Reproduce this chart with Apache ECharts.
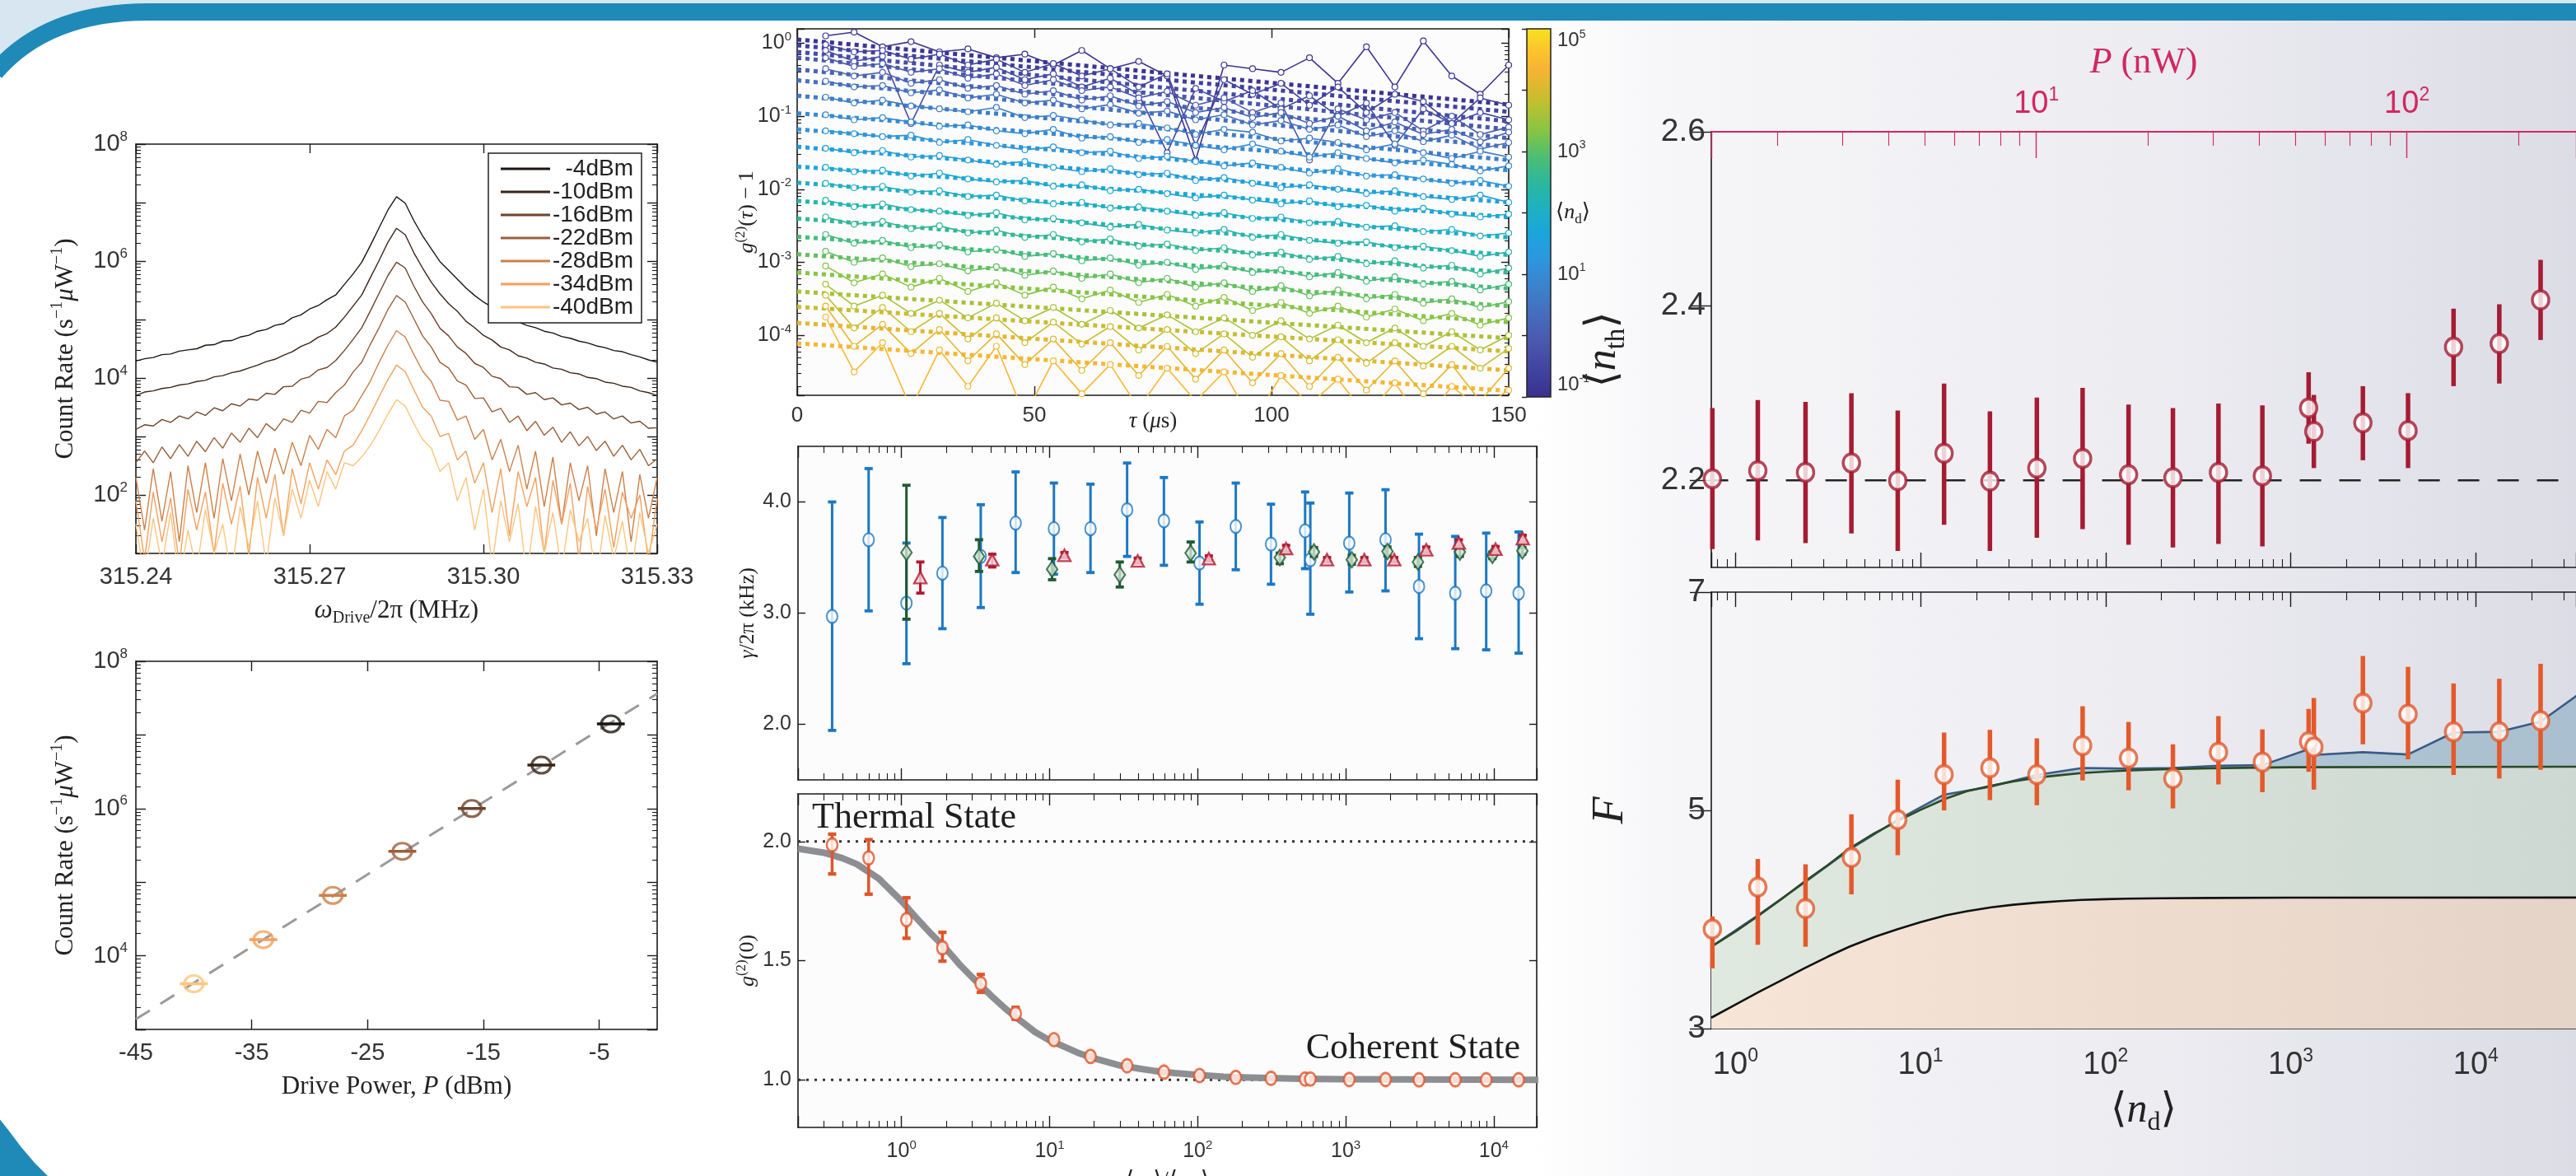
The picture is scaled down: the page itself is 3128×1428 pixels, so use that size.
<!DOCTYPE html>
<html><head><meta charset="utf-8"><title>Displaced thermal states</title>
<script src="https://cdn.jsdelivr.net/npm/echarts@6.0.0/dist/echarts.min.js"></script>
<style>html,body{margin:0;padding:0;background:#fff;overflow:hidden}#chart{width:3128px;height:1428px}</style>
</head><body><div id="chart"></div>
<script>
// ---------------- DATA ----------------
// Panel A: spectra (log10 of count rate) vs drive frequency
const spectrumFreqMHz = [315.2400,315.2415,315.2430,315.2445,315.2460,315.2475,315.2490,315.2505,315.2520,315.2535,315.2550,315.2565,315.2580,315.2595,315.2610,315.2625,315.2640,315.2655,315.2670,315.2685,315.2700,315.2715,315.2730,315.2745,315.2760,315.2775,315.2790,315.2805,315.2820,315.2835,315.2850,315.2865,315.2880,315.2895,315.2910,315.2925,315.2940,315.2955,315.2970,315.2985,315.3000,315.3015,315.3030,315.3045,315.3060,315.3075,315.3090,315.3105,315.3120,315.3135,315.3150,315.3165,315.3180,315.3195,315.3210,315.3225,315.3240,315.3255,315.3270,315.3285,315.3300];
const spec_m4_log10 = [4.29,4.33,4.35,4.40,4.41,4.46,4.48,4.50,4.56,4.57,4.63,4.64,4.70,4.73,4.80,4.83,4.90,4.93,5.03,5.08,5.18,5.24,5.34,5.42,5.60,5.78,5.98,6.27,6.57,6.87,7.10,6.99,6.69,6.43,6.21,5.99,5.84,5.69,5.54,5.41,5.30,5.21,5.11,5.03,4.96,4.90,4.86,4.80,4.77,4.71,4.68,4.63,4.60,4.55,4.52,4.47,4.45,4.40,4.36,4.31,4.27];
const spec_m10_log10 = [3.70,3.76,3.78,3.82,3.84,3.88,3.90,3.94,3.96,4.02,4.04,4.09,4.12,4.17,4.22,4.28,4.32,4.39,4.45,4.54,4.60,4.70,4.76,4.87,5.04,5.23,5.42,5.72,6.01,6.32,6.56,6.45,6.14,5.88,5.64,5.44,5.27,5.14,4.97,4.86,4.73,4.65,4.53,4.48,4.38,4.34,4.27,4.24,4.17,4.15,4.09,4.07,4.01,3.99,3.93,3.91,3.86,3.84,3.78,3.75,3.70];
const spec_m16_log10 = [3.12,3.20,3.18,3.29,3.24,3.35,3.30,3.42,3.36,3.49,3.44,3.56,3.52,3.64,3.62,3.74,3.72,3.85,3.86,3.98,4.02,4.14,4.18,4.30,4.47,4.66,4.86,5.15,5.45,5.75,5.98,5.88,5.57,5.30,5.10,4.85,4.72,4.53,4.42,4.25,4.18,4.03,3.99,3.85,3.84,3.72,3.75,3.63,3.66,3.54,3.57,3.46,3.50,3.38,3.42,3.30,3.35,3.23,3.26,3.14,3.15];
const spec_m22_log10 = [2.55,2.75,2.55,2.82,2.62,2.86,2.66,2.92,2.74,2.98,2.80,3.06,2.90,3.14,2.98,3.22,3.10,3.30,3.24,3.45,3.40,3.60,3.58,3.75,3.88,4.10,4.27,4.58,4.86,5.17,5.41,5.30,5.01,4.72,4.53,4.27,4.17,3.95,3.88,3.65,3.66,3.42,3.48,3.24,3.35,3.10,3.26,3.02,3.16,2.90,3.08,2.84,3.00,2.76,2.92,2.66,2.85,2.60,2.78,2.50,2.62];
const spec_m28_log10 = [2.30,1.40,2.45,1.55,2.40,1.20,2.50,1.70,2.55,1.60,2.62,1.90,2.70,2.00,2.75,2.20,2.80,2.35,2.90,2.50,3.02,2.78,3.12,2.98,3.35,3.45,3.70,3.95,4.27,4.56,4.81,4.70,4.40,4.12,3.94,3.62,3.60,3.28,3.35,2.95,3.12,2.60,2.95,2.40,2.85,2.10,2.75,1.80,2.65,1.50,2.55,1.90,2.50,1.30,2.45,1.70,2.40,1.20,2.35,1.60,2.30];
const spec_m34_log10 = [1.90,0.90,2.05,1.20,1.95,0.80,2.10,1.40,2.05,1.00,2.20,1.50,2.15,0.95,2.30,1.60,2.35,1.30,2.45,1.85,2.55,2.10,2.60,2.35,2.75,2.85,3.10,3.38,3.68,3.97,4.22,4.11,3.80,3.50,3.35,3.00,3.05,2.60,2.75,2.20,2.55,1.70,2.45,1.30,2.40,1.80,2.30,1.00,2.25,1.50,2.20,0.90,2.15,1.40,2.10,1.10,2.05,1.60,2.00,0.85,1.95];
const spec_m40_log10 = [1.50,0.60,1.60,0.80,1.70,0.50,1.40,0.70,1.75,1.00,1.50,0.60,1.80,1.10,1.90,0.80,1.95,1.30,2.10,1.60,2.25,1.80,2.40,2.10,2.55,2.50,2.65,2.85,3.10,3.38,3.63,3.52,3.22,2.95,2.80,2.40,2.55,1.90,2.30,1.40,2.10,0.80,1.90,1.20,1.85,0.60,1.80,1.00,1.70,0.70,1.75,1.20,1.60,0.50,1.65,0.90,1.55,0.60,1.70,1.00,1.50];
const specNames = ['-4dBm','-10dBm','-16dBm','-22dBm','-28dBm','-34dBm','-40dBm'];
const freqTicksMHz = [315.24,315.27,315.30,315.33];

// Panel B: peak count rate vs drive power
const drivePowerDbm = [-40,-34,-28,-22,-16,-10,-4];
const drivePeakRate = [4170,16600,66100,263000,1000000,3890000,14100000];
const drivePowerErrDbm = [1.2,1.2,1.2,1.2,1.2,1.2,1.2];
const driveFitDbm = [-45,0];
const driveFitRate = [1380,36300000];
const powerTicksDbm = [-45,-35,-25,-15,-5];

// Panel C: g2(tau)-1 traces (log10) and exponential fits
const tauUs = [6,12,18,24,30,36,42,48,54,60,66,72,78,84,90,96,102,108,114,120,126,132,138,144,150];
const tauTicksUs = [0,50,100,150];
const g2TracesLog10 = [
 [0.10,0.15,-0.05,0.02,-0.12,-0.08,-0.20,-0.15,-0.30,-0.10,-0.35,-0.25,-0.45,-1.60,-0.30,-0.35,-0.40,-0.20,-0.55,-0.05,-0.60,0.03,-0.45,-0.70,-0.30],
 [-0.02,-0.12,-0.10,-0.22,-0.15,-0.30,-0.22,-0.40,-0.28,-0.45,-0.35,-0.60,-0.42,-1.40,-0.50,-0.70,-0.55,-0.85,-0.60,-0.95,-0.70,-0.80,-1.10,-0.75,-0.85],
 [-0.10,-0.25,-0.18,-1.10,-0.30,-0.40,-0.33,-0.50,-0.42,-0.60,-0.48,-0.70,-1.50,-0.62,-0.80,-0.65,-0.90,-0.72,-1.00,-0.82,-1.40,-0.90,-1.10,-0.95,-1.05],
 [-0.20,-0.32,-0.28,-0.40,-0.35,-0.48,-0.42,-0.58,-0.50,-0.65,-0.60,-0.75,-0.66,-0.85,-0.75,-0.95,-0.82,-1.60,-0.90,-1.05,-0.95,-1.20,-1.00,-1.25,-1.15],
 [-0.35,-0.45,-0.40,-0.55,-0.50,-0.62,-0.58,-0.70,-0.65,-0.78,-0.72,-0.86,-0.80,-0.95,-0.88,-1.02,-0.95,-1.10,-1.00,-1.20,-1.08,-1.25,-1.18,-1.35,-1.22],
 [-0.52,-0.60,-0.58,-0.68,-0.64,-0.75,-0.70,-0.82,-0.78,-0.90,-0.84,-0.96,-0.93,-1.05,-0.98,-1.12,-1.06,-1.18,-1.12,-1.28,-1.20,-1.35,-1.26,-1.45,-1.36],
 [-0.74,-0.82,-0.78,-0.86,-0.90,-0.94,-0.88,-1.02,-0.99,-1.05,-1.12,-1.10,-1.16,-1.25,-1.18,-1.22,-1.34,-1.30,-1.36,-1.46,-1.38,-1.50,-1.58,-1.48,-1.56],
 [-0.98,-1.05,-1.02,-1.08,-1.14,-1.12,-1.20,-1.24,-1.18,-1.30,-1.28,-1.36,-1.32,-1.40,-1.46,-1.38,-1.48,-1.56,-1.50,-1.58,-1.64,-1.60,-1.66,-1.75,-1.68],
 [-1.20,-1.24,-1.28,-1.26,-1.36,-1.32,-1.40,-1.46,-1.42,-1.50,-1.48,-1.58,-1.55,-1.62,-1.68,-1.64,-1.70,-1.78,-1.72,-1.82,-1.80,-1.86,-1.92,-1.88,-1.96],
 [-1.44,-1.50,-1.47,-1.56,-1.54,-1.60,-1.66,-1.62,-1.70,-1.76,-1.72,-1.80,-1.78,-1.88,-1.84,-1.92,-1.98,-1.94,-2.00,-2.06,-2.02,-2.10,-2.14,-2.08,-2.18],
 [-1.70,-1.76,-1.74,-1.82,-1.78,-1.86,-1.90,-1.88,-1.96,-1.94,-2.02,-2.00,-2.06,-2.12,-2.08,-2.15,-2.20,-2.16,-2.24,-2.22,-2.30,-2.26,-2.34,-2.38,-2.34],
 [-1.92,-1.98,-1.96,-2.04,-2.02,-2.10,-2.08,-2.16,-2.20,-2.18,-2.26,-2.24,-2.30,-2.36,-2.32,-2.40,-2.38,-2.46,-2.44,-2.52,-2.50,-2.58,-2.55,-2.64,-2.60],
 [-2.15,-2.24,-2.20,-2.28,-2.30,-2.36,-2.32,-2.42,-2.40,-2.46,-2.52,-2.48,-2.56,-2.60,-2.55,-2.66,-2.62,-2.70,-2.74,-2.72,-2.80,-2.78,-2.84,-2.92,-2.86],
 [-2.38,-2.48,-2.44,-2.54,-2.50,-2.60,-2.56,-2.66,-2.62,-2.72,-2.68,-2.78,-2.75,-2.84,-2.80,-2.90,-2.86,-2.96,-2.92,-3.02,-2.98,-3.08,-3.04,-3.16,-3.08],
 [-2.62,-2.74,-2.70,-2.80,-2.76,-2.86,-2.82,-2.92,-2.88,-2.98,-2.94,-3.04,-3.00,-3.10,-3.04,-3.14,-3.10,-3.20,-3.14,-3.26,-3.20,-3.30,-3.26,-3.38,-3.30],
 [-2.85,-3.00,-2.94,-3.06,-3.02,-3.12,-3.06,-3.18,-3.12,-3.22,-3.16,-3.28,-3.22,-3.34,-3.28,-3.40,-3.32,-3.46,-3.38,-3.50,-3.44,-3.56,-3.50,-3.62,-3.54],
 [-3.05,-3.28,-3.16,-3.34,-3.22,-3.40,-3.28,-3.45,-3.34,-3.50,-3.38,-3.55,-3.44,-3.60,-3.48,-3.66,-3.55,-3.70,-3.60,-3.75,-3.64,-3.80,-3.70,-3.86,-3.76],
 [-3.30,-3.60,-3.45,-3.70,-3.52,-3.76,-3.56,-3.80,-3.62,-3.85,-3.66,-3.90,-3.72,-3.95,-3.76,-4.00,-3.80,-4.05,-3.86,-4.10,-3.90,-4.15,-3.95,-4.20,-4.00],
 [-3.45,-3.90,-3.62,-3.95,-3.70,-4.05,-3.76,-4.10,-3.82,-4.12,-3.88,-4.20,-3.92,-4.25,-3.98,-4.30,-4.02,-4.35,-4.06,-4.38,-4.10,-4.42,-4.15,-4.45,-4.18],
 [-3.60,-4.15,-3.85,-4.25,-3.92,-4.35,-3.98,-4.40,-4.05,-4.48,-4.10,-4.55,-4.15,-4.60,-4.20,-4.65,-4.25,-4.70,-4.30,-4.75,-4.35,-4.80,-4.40,-4.90,-4.45],
 [-3.75,-4.50,-4.10,-5.00,-4.20,-4.70,-4.15,-5.10,-4.35,-4.80,-4.40,-5.00,-4.45,-4.90,-4.50,-5.20,-4.55,-4.95,-4.60,-5.10,-4.65,-5.20,-4.70,-5.00,-4.75]
];
const g2FitStartLog10 = [0.05,-0.03,-0.12,-0.20,-0.36,-0.51,-0.72,-0.96,-1.18,-1.42,-1.69,-1.91,-2.16,-2.40,-2.65,-2.89,-3.14,-3.40,-3.61,-3.83,-4.11];
const g2FitEndLog10 = [-0.84,-0.94,-1.07,-1.18,-1.30,-1.42,-1.60,-1.74,-1.96,-2.18,-2.38,-2.66,-2.90,-3.14,-3.36,-3.60,-3.82,-4.04,-4.22,-4.48,-4.76];
const traceNd = [0.13,0.24,0.44,0.82,1.5,2.8,5.1,9.3,17,31,58,106,194,356,655,1200,2200,4060,7450,13700,25000];

// Panel D: linewidth gamma/2pi (kHz) vs <n_d>/<n_th>
const ratioBlue = [0.34,0.60,1.08,1.89,3.43,5.9,10.7,18.9,33.4,59.2,103,181,313,532,577,1057,1858,3126,5495,8892,14720];
const gammaBlue = [2.97,3.66,3.09,3.36,3.51,3.81,3.76,3.76,3.93,3.83,3.45,3.78,3.62,3.74,3.48,3.63,3.66,3.24,3.18,3.20,3.18];
const gammaBlueLo = [1.945,3.02,2.545,2.86,3.05,3.365,3.35,3.365,3.51,3.43,3.08,3.39,3.26,3.40,2.99,3.19,3.20,2.77,2.68,2.67,2.64];
const gammaBlueHi = [4.00,4.30,3.63,3.86,3.975,4.27,4.17,4.16,4.35,4.22,3.82,4.17,3.98,4.09,3.99,4.08,4.11,3.71,3.69,3.72,3.73];
const ratioGreen = [1.08,3.34,10.4,29.8,89.7,359,611,1099,1914,3076,5902,9790,15600];
const gammaGreen = [3.545,3.51,3.395,3.345,3.54,3.50,3.55,3.48,3.555,3.46,3.55,3.52,3.56];
const gammaGreenLo = [2.945,3.375,3.30,3.235,3.46,3.445,3.51,3.44,3.515,3.42,3.51,3.49,3.53];
const gammaGreenHi = [4.15,3.66,3.49,3.46,3.64,3.54,3.59,3.52,3.595,3.50,3.59,3.55,3.59];
const ratioRed = [1.34,4.10,12.6,39.4,119,396,748,1337,2128,3499,5810,10280,15700];
const gammaRed = [3.32,3.48,3.52,3.47,3.49,3.58,3.48,3.48,3.48,3.57,3.63,3.575,3.67];
const gammaRedLo = [3.18,3.415,3.50,3.45,3.47,3.55,3.46,3.46,3.46,3.545,3.60,3.55,3.64];
const gammaRedHi = [3.46,3.53,3.545,3.495,3.515,3.61,3.50,3.50,3.50,3.595,3.66,3.60,3.70];
const gammaTicks = [2,3,4];

// Panel E: g2(0) vs <n_d>/<n_th>
const g2Zero = [1.986,1.931,1.672,1.554,1.404,1.278,1.168,1.098,1.059,1.032,1.018,1.010,1.006,1.003,1.003,1.001,1.001,1.000,1.000,1.000,1.000];
const g2ZeroLo = [1.864,1.779,1.594,1.498,1.367,1.254,1.158,1.090,1.052,1.026,1.012,1.004,1.000,0.997,0.997,0.995,0.995,0.994,0.994,0.994,0.994];
const g2ZeroHi = [2.031,2.008,1.764,1.619,1.442,1.304,1.178,1.106,1.066,1.038,1.024,1.016,1.012,1.009,1.009,1.007,1.007,1.006,1.006,1.006,1.006];
const g2CurveRatio = [0.2,0.3,0.4,0.5,0.7,1.0,1.3,1.6,2,2.5,3,4,5,6,8,10,13,16,20,30,40,50,70,100,150,200,300,500,1000,20000];
const g2CurveValue = [1.97,1.953,1.93,1.905,1.845,1.75,1.67,1.61,1.55,1.48,1.43,1.355,1.30,1.26,1.20,1.165,1.135,1.11,1.09,1.06,1.047,1.038,1.028,1.02,1.013,1.01,1.007,1.004,1.002,1.0];
const g2ZeroTicks = [1.0,1.5,2.0];

// Panel F: <n_th> vs <n_d>
const ndPoints = [0.75,1.32,2.39,4.23,7.53,13.4,23.7,42.5,75.1,133,231,407,703,1250,1334,2455,4305,7586,13400,22400];
const nthValue = [2.2017,2.211,2.209,2.220,2.1995,2.231,2.199,2.214,2.225,2.2065,2.203,2.209,2.205,2.283,2.256,2.266,2.257,2.353,2.357,2.407];
const nthLo = [2.121,2.131,2.128,2.139,2.119,2.149,2.119,2.134,2.144,2.126,2.123,2.127,2.124,2.242,2.214,2.223,2.214,2.308,2.311,2.361];
const nthHi = [2.283,2.292,2.290,2.300,2.280,2.311,2.279,2.295,2.306,2.287,2.283,2.288,2.286,2.324,2.298,2.308,2.300,2.397,2.402,2.453];
const nthRef = [2.2,2.2];
const nthRefNd = [0.7,40000];
const nthTicks = [2.2,2.4,2.6];

// Panel G: F vs <n_d>
const FValue = [3.912,4.298,4.10,4.568,4.914,5.328,5.389,5.328,5.594,5.479,5.292,5.533,5.443,5.63,5.58,5.983,5.882,5.72,5.72,5.821];
const FLo = [3.552,3.768,3.75,4.23,4.589,5.0,5.094,5.047,5.274,5.184,5.018,5.238,5.166,5.353,5.19,5.605,5.468,5.324,5.292,5.371];
const FHi = [4.028,4.554,4.506,4.964,5.281,5.713,5.738,5.66,5.954,5.81,5.605,5.864,5.742,5.93,6.03,6.415,6.315,6.163,6.206,6.343];
const curveNd = [0.74,1.0,1.34,1.78,2.35,3.16,4.13,5.62,7.53,10,13.7,17.8,24.1,31.6,42.2,56.2,73.9,100,129,200,367,1000,40000];
const blackCurveF = [3.10,3.22,3.337,3.445,3.552,3.66,3.751,3.84,3.912,3.975,4.038,4.075,4.111,4.135,4.154,4.168,4.179,4.186,4.19,4.194,4.197,4.20,4.201];
const greenCurveF = [3.75,3.89,4.038,4.19,4.345,4.50,4.651,4.79,4.903,5.005,5.108,5.175,5.227,5.265,5.299,5.322,5.342,5.355,5.364,5.376,5.386,5.395,5.40];
const blueCurveNd = [0.74,1.32,2.39,4.23,7.53,13.4,23.7,42.5,75.1,133,231,407,703,1250,1334,2455,4305,7586,13400,22400,40000];
const blueCurveF = [3.75,4.038,4.345,4.651,4.914,5.144,5.216,5.324,5.389,5.382,5.389,5.41,5.414,5.561,5.508,5.533,5.512,5.713,5.72,5.813,6.12];
const FTicks = [3,5,7];

// ---------------- STYLE ----------------
const FT = '"Liberation Sans Narrow","Liberation Sans",Arial,sans-serif';
const FS = '"Liberation Serif","DejaVu Serif",serif';
const AXC = '#1a1a1a';
const specColors = ['#1b1512','#3b2417','#6e4329','#9c6038','#cd8049','#f3a05f','#fcc57e'];
const parulaStops = [[0,'#3b2f8c'],[0.05,'#3e3d9b'],[0.15,'#4a58ad'],[0.22,'#476bbb'],[0.30,'#3b82cc'],[0.38,'#2b98de'],[0.45,'#1aa6da'],[0.52,'#1fb2bd'],[0.58,'#2bb79e'],[0.65,'#4cbd74'],[0.72,'#85c545'],[0.79,'#b9c132'],[0.84,'#dcb92e'],[0.89,'#f7b434'],[0.94,'#fcc42b'],[1,'#f5e31e']];
function hex2rgb(h){return [parseInt(h.slice(1,3),16),parseInt(h.slice(3,5),16),parseInt(h.slice(5,7),16)];}
function parula(f){
  f=Math.max(0,Math.min(1,f));
  for(let i=1;i<parulaStops.length;i++){
    if(f<=parulaStops[i][0]){
      const a=parulaStops[i-1],b=parulaStops[i],t=(f-a[0])/(b[0]-a[0]);
      const ca=hex2rgb(a[1]),cb=hex2rgb(b[1]);
      return 'rgb('+ca.map((c,j)=>Math.round(c+(cb[j]-c)*t)).join(',')+')';
    }
  }
  return parulaStops[parulaStops.length-1][1];
}
function rich(size,color){
  const lh=Math.round(size*1.25), ss=Math.round(size*0.64);
  return {
    r:{fontFamily:FS,fontSize:size,color,lineHeight:lh},
    i:{fontFamily:FS,fontSize:size,fontStyle:'italic',color,lineHeight:lh},
    sup:{fontFamily:FS,fontSize:ss,color,verticalAlign:'top',lineHeight:ss},
    sub:{fontFamily:FS,fontSize:ss,color,verticalAlign:'bottom',lineHeight:ss}
  };
}
function lrich(size,color){
  return {b:{fontFamily:FT,fontSize:size,color,lineHeight:Math.round(size*1.2)},
          s:{fontFamily:FT,fontSize:Math.round(size*0.6),color,verticalAlign:'top',lineHeight:Math.round(size*0.6)}};
}
function powLab(v,keep){
  const l=Math.log10(v), k=Math.round(l);
  if(Math.abs(l-k)>1e-6) return '';
  if(keep && !keep(k)) return '';
  return '{b|10}{s|'+k+'}';
}
function aLine(color,w){return {show:true,onZero:false,lineStyle:{color:color||AXC,width:w||1.6}};}
function ticks(len,inside,cv,color){const t={show:true,inside:inside!==false,length:len,lineStyle:{color:color||AXC,width:1.4}}; if(cv) t.customValues=cv; return t;}
function minor(len,color){return {show:true,splitNumber:9,length:len,lineStyle:{color:color||AXC,width:1.1}};}
const NOLAB={show:false};
const NOSPLIT={show:false};

const grids=[], xAxes=[], yAxes=[], series=[];
function G(g){g.containLabel=false; g.outerBoundsMode='none'; grids.push(g); return grids.length-1;}
function XA(a){a.splitLine=NOSPLIT; a.minorSplitLine=NOSPLIT; a.nameMoveOverlap=false; xAxes.push(a); return xAxes.length-1;}
function YA(a){a.splitLine=NOSPLIT; a.minorSplitLine=NOSPLIT; a.nameMoveOverlap=false; yAxes.push(a); return yAxes.length-1;}

function vErr(xi,yi,xs,lo,hi,color,lw,cap,z){
  return {type:'custom',xAxisIndex:xi,yAxisIndex:yi,z:z||3,silent:true,
    data:xs.map((x,i)=>[x,lo[i],hi[i]]),
    encode:{x:0,y:[1,2]},
    renderItem:(p,api)=>{
      const x=api.value(0), a=api.coord([x,api.value(1)]), b=api.coord([x,api.value(2)]);
      const ch=[{type:'line',shape:{x1:a[0],y1:a[1],x2:b[0],y2:b[1]},style:{stroke:color,lineWidth:lw}}];
      if(cap){
        ch.push({type:'line',shape:{x1:a[0]-cap,y1:a[1],x2:a[0]+cap,y2:a[1]},style:{stroke:color,lineWidth:lw+0.8}});
        ch.push({type:'line',shape:{x1:b[0]-cap,y1:b[1],x2:b[0]+cap,y2:b[1]},style:{stroke:color,lineWidth:lw+0.8}});
      }
      return {type:'group',children:ch};
    }};
}
function hErr(xi,yi,lo,hi,ys,colors,lw,z){
  return {type:'custom',xAxisIndex:xi,yAxisIndex:yi,z:z||3,silent:true,
    data:ys.map((y,i)=>[lo[i],hi[i],y,i]),
    encode:{x:[0,1],y:2},
    renderItem:(p,api)=>{
      const y=api.value(2), a=api.coord([api.value(0),y]), b=api.coord([api.value(1),y]);
      return {type:'line',shape:{x1:a[0],y1:a[1],x2:b[0],y2:b[1]},style:{stroke:colors[api.value(3)],lineWidth:lw}};
    }};
}

// ---------------- PANEL A ----------------
const gA=G({left:165,top:175,width:633,height:497});
const xA=XA({gridIndex:gA,type:'value',position:'bottom',min:315.24,max:315.33,axisLine:aLine(),axisTick:ticks(11,true,freqTicksMHz),
  axisLabel:{customValues:freqTicksMHz,formatter:v=>v.toFixed(2),fontFamily:FT,fontSize:29,color:'#333',margin:14},
  name:'{i|ω}{sub|Drive}{r|/2π (MHz)}',nameLocation:'middle',nameGap:50,nameTextStyle:{rich:rich(31,'#222')}});
XA({gridIndex:gA,type:'value',position:'top',min:315.24,max:315.33,axisLine:aLine(),axisTick:ticks(11,true,freqTicksMHz),axisLabel:NOLAB});
const yA=YA({gridIndex:gA,type:'log',logBase:10,position:'left',min:10,max:1e8,axisLine:aLine(),axisTick:ticks(12),minorTick:minor(6),
  axisLabel:{formatter:v=>powLab(v,k=>k%2===0),rich:lrich(29,'#333'),margin:10},
  name:'{r|Count Rate (s}{sup|−1}{i|μ}{r|W}{sup|−1}{r|)}',nameLocation:'middle',nameRotate:90,nameGap:66,nameTextStyle:{rich:rich(31,'#222')}});
YA({gridIndex:gA,type:'log',logBase:10,position:'right',min:10,max:1e8,axisLine:aLine(),axisTick:ticks(12),minorTick:minor(6),axisLabel:NOLAB});
const specLog=[spec_m4_log10,spec_m10_log10,spec_m16_log10,spec_m22_log10,spec_m28_log10,spec_m34_log10,spec_m40_log10];
specNames.forEach((n,i)=>{
  series.push({name:n,type:'line',xAxisIndex:xA,yAxisIndex:yA,symbol:'none',showSymbol:false,clip:true,z:2,
    data:spectrumFreqMHz.map((f,k)=>[f,Math.pow(10,specLog[i][k])]),
    lineStyle:{color:specColors[i],width:1.4},itemStyle:{color:specColors[i]}});
});

// ---------------- PANEL B ----------------
const gB=G({left:165,top:803,width:633,height:447});
const xB=XA({gridIndex:gB,type:'value',position:'bottom',min:-45,max:0,axisLine:aLine(),axisTick:ticks(12,true,powerTicksDbm),
  axisLabel:{customValues:powerTicksDbm,formatter:v=>String(v),fontFamily:FT,fontSize:29,color:'#333',margin:14},
  name:'{r|Drive Power, }{i|P}{r| (dBm)}',nameLocation:'middle',nameGap:50,nameTextStyle:{rich:rich(31,'#222')}});
XA({gridIndex:gB,type:'value',position:'top',min:-45,max:0,axisLine:aLine(),axisTick:ticks(12,true,powerTicksDbm),axisLabel:NOLAB});
const yB=YA({gridIndex:gB,type:'log',logBase:10,position:'left',min:1000,max:1e8,axisLine:aLine(),axisTick:ticks(12),minorTick:minor(6),
  axisLabel:{formatter:v=>powLab(v,k=>k%2===0),rich:lrich(29,'#333'),margin:10},
  name:'{r|Count Rate (s}{sup|−1}{i|μ}{r|W}{sup|−1}{r|)}',nameLocation:'middle',nameRotate:90,nameGap:66,nameTextStyle:{rich:rich(31,'#222')}});
YA({gridIndex:gB,type:'log',logBase:10,position:'right',min:1000,max:1e8,axisLine:aLine(),axisTick:ticks(12),minorTick:minor(6),axisLabel:NOLAB});
const pointColors=specColors.slice().reverse();
series.push({type:'line',xAxisIndex:xB,yAxisIndex:yB,symbol:'none',z:2,data:driveFitDbm.map((p,i)=>[p,driveFitRate[i]]),
  lineStyle:{color:'#9a9a9a',width:3,type:[20,15]}});
series.push(hErr(xB,yB,drivePowerDbm.map((p,i)=>p-drivePowerErrDbm[i]),drivePowerDbm.map((p,i)=>p+drivePowerErrDbm[i]),drivePeakRate,pointColors,3.5,3));
series.push({type:'scatter',xAxisIndex:xB,yAxisIndex:yB,z:4,symbol:'circle',symbolSize:[23,20],
  data:drivePowerDbm.map((p,i)=>({value:[p,drivePeakRate[i]],itemStyle:{color:'rgba(255,255,255,0)',borderColor:pointColors[i],borderWidth:3.2}}))});

// ---------------- PANEL C ----------------
const gC=G({left:968,top:35,width:864,height:445,show:true,backgroundColor:'#fcfcfc',borderWidth:0});
const xC=XA({gridIndex:gC,type:'value',position:'bottom',min:0,max:150,axisLine:aLine(),axisTick:ticks(11,true,tauTicksUs),
  axisLabel:{customValues:tauTicksUs,formatter:v=>String(v),fontFamily:FT,fontSize:26,color:'#333',margin:12},
  name:'{i|τ}{r| (}{i|μ}{r|s)}',nameLocation:'middle',nameGap:15,nameTextStyle:{rich:rich(27,'#222')}});
XA({gridIndex:gC,type:'value',position:'top',min:0,max:150,axisLine:aLine(),axisTick:ticks(11,true,tauTicksUs),axisLabel:NOLAB});
const yC=YA({gridIndex:gC,type:'log',logBase:10,position:'left',min:1.51e-5,max:1.57,axisLine:aLine(),axisTick:ticks(9),minorTick:minor(5),
  axisLabel:{formatter:v=>powLab(v),rich:lrich(25,'#333'),margin:7},
  name:'{i|g}{sup|(2)}{r|(}{i|τ}{r|) − 1}',nameLocation:'middle',nameRotate:90,nameGap:44,nameTextStyle:{rich:rich(26,'#222')}});
YA({gridIndex:gC,type:'log',logBase:10,position:'right',min:1.51e-5,max:1.57,axisLine:aLine(),axisTick:ticks(9),minorTick:minor(5),axisLabel:NOLAB});
g2TracesLog10.forEach((tr,i)=>{
  const c=parula((Math.log10(traceNd[i])+1)/6);
  series.push({type:'line',xAxisIndex:xC,yAxisIndex:yC,symbol:'none',z:2,clip:true,
    data:[[0,Math.pow(10,g2FitStartLog10[i])],[150,Math.pow(10,g2FitEndLog10[i])]],
    lineStyle:{color:c,width:5,type:[5,5]}});
  series.push({type:'line',xAxisIndex:xC,yAxisIndex:yC,z:3,clip:true,symbol:'circle',symbolSize:7,showSymbol:true,
    data:tauUs.map((t,k)=>[t,Math.pow(10,tr[k])]),
    lineStyle:{color:c,width:1.6},itemStyle:{color:'#fff',borderColor:c,borderWidth:1.2}});
});

// colorbar
const gCB=G({left:1854,top:35,width:29,height:447});
const xCB=XA({gridIndex:gCB,type:'value',min:0,max:1,show:false});
const yCB=YA({gridIndex:gCB,type:'log',logBase:10,position:'right',min:0.1,max:1e5,axisLine:{show:false},axisTick:ticks(6),
  axisLabel:{formatter:v=>powLab(v,k=>((k%2)+2)%2===1),rich:lrich(24,'#333'),margin:8,verticalAlignMaxLabel:'top',verticalAlignMinLabel:'bottom'},
  name:'{r|⟨}{i|n}{sub|d}{r|⟩}',nameLocation:'middle',nameRotate:0,nameGap:6,nameTextStyle:{rich:rich(26,'#222')}});
series.push({type:'custom',xAxisIndex:xCB,yAxisIndex:yCB,z:1,silent:true,data:[[0,0.1,1e5]],
  renderItem:(p,api)=>{
    const a=api.coord([0,1e5]), b=api.coord([1,0.1]);
    return {type:'rect',shape:{x:a[0],y:a[1],width:b[0]-a[0],height:b[1]-a[1]},
      style:{fill:new echarts.graphic.LinearGradient(0,1,0,0,parulaStops.map(s=>({offset:s[0],color:s[1]}))),stroke:'#222',lineWidth:1.5}};
  }});

// ---------------- PANEL D ----------------
const gD=G({left:969,top:542,width:897,height:405,show:true,backgroundColor:'#fcfcfc',borderWidth:0});
const xD=XA({gridIndex:gD,type:'log',logBase:10,position:'bottom',min:0.2,max:19500,axisLine:aLine(),axisTick:ticks(14),minorTick:minor(8),axisLabel:NOLAB});
XA({gridIndex:gD,type:'log',logBase:10,position:'top',min:0.2,max:19500,axisLine:aLine(),axisTick:ticks(14),minorTick:minor(8),axisLabel:NOLAB});
const yD=YA({gridIndex:gD,type:'value',position:'left',min:1.5,max:4.5,axisLine:aLine(),axisTick:ticks(9,true,gammaTicks),
  axisLabel:{customValues:gammaTicks,formatter:v=>v.toFixed(1),fontFamily:FT,fontSize:25,color:'#333',margin:8},
  name:'{i|γ}{r|/2π (kHz)}',nameLocation:'middle',nameRotate:90,nameGap:44,nameTextStyle:{rich:rich(26,'#222')}});
YA({gridIndex:gD,type:'value',position:'right',min:1.5,max:4.5,axisLine:aLine(),axisTick:ticks(9,true,gammaTicks),axisLabel:NOLAB});
series.push(vErr(xD,yD,ratioBlue,gammaBlueLo,gammaBlueHi,'#1b78c4',3,5,3));
series.push({type:'scatter',xAxisIndex:xD,yAxisIndex:yD,z:4,symbol:'circle',symbolSize:[13,16],
  data:ratioBlue.map((x,i)=>[x,gammaBlue[i]]),itemStyle:{color:'#fff',borderColor:'#1b78c4',borderWidth:2.2}});
series.push(vErr(xD,yD,ratioGreen,gammaGreenLo,gammaGreenHi,'#1f5a35',3,5,5));
series.push({type:'scatter',xAxisIndex:xD,yAxisIndex:yD,z:6,symbol:'diamond',symbolSize:[13,19],
  data:ratioGreen.map((x,i)=>[x,gammaGreen[i]]),itemStyle:{color:'#d3e6d3',borderColor:'#1f5a35',borderWidth:2.2}});
series.push(vErr(xD,yD,ratioRed,gammaRedLo,gammaRedHi,'#b3182e',3,5,7));
series.push({type:'scatter',xAxisIndex:xD,yAxisIndex:yD,z:8,symbol:'triangle',symbolSize:[15,14],
  data:ratioRed.map((x,i)=>[x,gammaRed[i]]),itemStyle:{color:'#f7dade',borderColor:'#b3182e',borderWidth:2.4}});

// ---------------- PANEL E ----------------
const gE=G({left:969,top:964,width:897,height:405,show:true,backgroundColor:'#fcfcfc',borderWidth:0});
const xE=XA({gridIndex:gE,type:'log',logBase:10,position:'bottom',min:0.2,max:19500,axisLine:aLine(),axisTick:ticks(14),minorTick:minor(8),
  axisLabel:{formatter:v=>powLab(v),rich:lrich(25,'#333'),margin:14},
  name:'{r|⟨}{i|n}{sub|d}{r|⟩/⟨}{i|n}{sub|th}{r|⟩}',nameLocation:'middle',nameGap:47,nameTextStyle:{rich:rich(28,'#222')}});
XA({gridIndex:gE,type:'log',logBase:10,position:'top',min:0.2,max:19500,axisLine:aLine(),axisTick:ticks(14),minorTick:minor(8),axisLabel:NOLAB});
const yE=YA({gridIndex:gE,type:'value',position:'left',min:0.8,max:2.2,axisLine:aLine(),axisTick:ticks(9,true,g2ZeroTicks),
  axisLabel:{customValues:g2ZeroTicks,formatter:v=>v.toFixed(1),fontFamily:FT,fontSize:25,color:'#333',margin:8},
  name:'{i|g}{sup|(2)}{r|(0)}',nameLocation:'middle',nameRotate:90,nameGap:44,nameTextStyle:{rich:rich(26,'#222')}});
YA({gridIndex:gE,type:'value',position:'right',min:0.8,max:2.2,axisLine:aLine(),axisTick:ticks(9,true,g2ZeroTicks),axisLabel:NOLAB});
series.push({type:'line',xAxisIndex:xE,yAxisIndex:yE,symbol:'none',z:2,data:[[0.2,2],[19500,2]],lineStyle:{color:'#333',width:3,type:[3,7]}});
series.push({type:'line',xAxisIndex:xE,yAxisIndex:yE,symbol:'none',z:2,data:[[0.2,1],[19500,1]],lineStyle:{color:'#333',width:3,type:[3,7]}});
series.push({type:'line',xAxisIndex:xE,yAxisIndex:yE,symbol:'none',z:3,
  data:g2CurveRatio.map((x,i)=>[x,g2CurveValue[i]]),lineStyle:{color:'#8d8e91',width:8,join:'round'}});
series.push(vErr(xE,yE,ratioBlue,g2ZeroLo,g2ZeroHi,'#e0552a',3.5,5,4));
series.push({type:'scatter',xAxisIndex:xE,yAxisIndex:yE,z:5,symbol:'circle',symbolSize:[13,16],
  data:ratioBlue.map((x,i)=>[x,g2Zero[i]]),itemStyle:{color:'#fff',borderColor:'#e0552a',borderWidth:2.8}});

// ---------------- PANEL F ----------------
const gF=G({left:2078,top:160,width:1050,height:529});
const xF=XA({gridIndex:gF,type:'log',logBase:10,position:'bottom',min:0.74,max:34800,axisLine:aLine(),axisTick:ticks(18),minorTick:minor(10),axisLabel:NOLAB});
const xFP=XA({gridIndex:gF,type:'log',logBase:10,position:'top',min:1.327,max:286,axisLine:aLine('#d2285f',2.2),
  axisTick:ticks(32,true,null,'#d2285f'),minorTick:minor(17,'#d2285f'),
  axisLabel:{formatter:v=>powLab(v),rich:lrich(38,'#d2285f'),margin:10},
  name:'{i|P}{r| (nW)}',nameLocation:'middle',nameGap:56,nameTextStyle:{rich:rich(44,'#d2285f')}});
const yF=YA({gridIndex:gF,type:'value',position:'left',min:2.1,max:2.6,axisLine:aLine(AXC,1.6),axisTick:ticks(26,false,nthTicks),
  axisLabel:{customValues:nthTicks,formatter:v=>v.toFixed(1),fontFamily:FT,fontSize:39,color:'#333',margin:7},
  name:'{r|⟨}{i|n}{sub|th}{r|⟩}',nameLocation:'middle',nameRotate:90,nameGap:98,nameTextStyle:{rich:rich(52,'#222')}});
series.push({type:'line',xAxisIndex:xF,yAxisIndex:yF,symbol:'none',z:2,data:nthRefNd.map((x,i)=>[x,nthRef[i]]),
  lineStyle:{color:'#222',width:2.5,type:[26,22]}});
series.push(vErr(xF,yF,ndPoints,nthLo,nthHi,'#a51c32',5.5,0,3));
series.push({type:'scatter',xAxisIndex:xF,yAxisIndex:yF,z:4,symbol:'circle',symbolSize:[20,22],clip:false,
  data:ndPoints.map((x,i)=>[x,nthValue[i]]),itemStyle:{color:'#fff',borderColor:'#a51c32',borderWidth:3.6}});

// ---------------- PANEL G ----------------
const gG=G({left:2078,top:719,width:1050,height:530});
const xG=XA({gridIndex:gG,type:'log',logBase:10,position:'bottom',min:0.74,max:34800,axisLine:aLine(),axisTick:ticks(18),minorTick:minor(10),
  axisLabel:{formatter:v=>powLab(v),rich:lrich(38,'#333'),margin:22},
  name:'{r|⟨}{i|n}{sub|d}{r|⟩}',nameLocation:'middle',nameGap:68,nameTextStyle:{rich:rich(50,'#222')}});
XA({gridIndex:gG,type:'log',logBase:10,position:'top',min:0.74,max:34800,axisLine:aLine(),axisTick:ticks(18),minorTick:minor(10),axisLabel:NOLAB});
const yG=YA({gridIndex:gG,type:'value',position:'left',min:3,max:7,axisLine:aLine(),axisTick:ticks(26,false,FTicks),
  axisLabel:{customValues:FTicks,formatter:v=>String(v),fontFamily:FT,fontSize:39,color:'#333',margin:7},
  name:'{i|F}',nameLocation:'middle',nameRotate:90,nameGap:88,nameTextStyle:{rich:rich(54,'#222')}});
function hgrad(a,b){return new echarts.graphic.LinearGradient(0,0,1,0,[{offset:0,color:a},{offset:1,color:b}]);}
series.push({type:'line',xAxisIndex:xG,yAxisIndex:yG,symbol:'none',z:2,clip:true,
  data:blueCurveNd.map((x,i)=>[x,blueCurveF[i]]),lineStyle:{color:'#3a5b86',width:2.6},
  areaStyle:{color:hgrad('#bcd1de','#a9bfcf'),opacity:1,origin:'start'}});
series.push({type:'line',xAxisIndex:xG,yAxisIndex:yG,symbol:'none',z:2,clip:true,
  data:curveNd.map((x,i)=>[x,greenCurveF[i]]),lineStyle:{color:'#2c4a24',width:2.6,join:'round'},
  areaStyle:{color:hgrad('#e0e9de','#cdd8d3'),opacity:1,origin:'start'}});
series.push({type:'line',xAxisIndex:xG,yAxisIndex:yG,symbol:'none',z:2,clip:true,
  data:curveNd.map((x,i)=>[x,blackCurveF[i]]),lineStyle:{color:'#111',width:2.6,join:'round'},
  areaStyle:{color:hgrad('#f7e6d6','#e4d3c7'),opacity:1,origin:'start'}});
series.push(vErr(xG,yG,ndPoints,FLo,FHi,'#e4592a',5.5,0,3));
series.push({type:'scatter',xAxisIndex:xG,yAxisIndex:yG,z:4,symbol:'circle',symbolSize:[20,22],clip:false,
  data:ndPoints.map((x,i)=>[x,FValue[i]]),itemStyle:{color:'#fff',borderColor:'#e4592a',borderWidth:3.6}});

// ---------------- CHART ----------------
const chart=echarts.init(document.getElementById('chart'),null,{renderer:'canvas',width:3128,height:1428});
chart.setOption({
  animation:false,
  backgroundColor:'#ffffff',
  textStyle:{fontFamily:FT},
  grid:grids, xAxis:xAxes, yAxis:yAxes, series,
  legend:{data:specNames,orient:'vertical',left:593,top:186,icon:'rect',itemWidth:60,itemHeight:3,itemGap:0,
    padding:[5,10,5,15],backgroundColor:'#fff',borderColor:'#222',borderWidth:1.5,selectedMode:false,
    formatter:n=>'{a|'+n+'}',textStyle:{rich:{a:{width:96,align:'right',fontFamily:FT,fontSize:28,color:'#222',lineHeight:30}}}},
  graphic:{elements:[
    {type:'rect',z:-100,silent:true,shape:{x:1860,y:24,width:1268,height:1404},
      style:{fill:new echarts.graphic.LinearGradient(0,0,1,0,[{offset:0,color:'#ffffff'},{offset:0.12,color:'#f7f7f9'},{offset:0.6,color:'#ececf1'},{offset:1,color:'#dcdce6'}])}},
    {type:'polygon',z:100,silent:true,shape:{points:[[0,0],[3128,0],[3128,14],[180,14],[140,15],[105,18],[75,24],[48,34],[25,48],[8,66],[-6,88]]},style:{fill:'#d7e6f0'}},
    {type:'line',z:101,silent:true,shape:{x1:3140,y1:14.5,x2:178,y2:14.5},style:{stroke:'#1f8ab8',lineWidth:21}},
    {type:'bezierCurve',z:101,silent:true,shape:{x1:180,y1:14.5,cpx1:105,cpy1:14.5,cpx2:40,cpy2:34,x2:-6,y2:88},style:{fill:'none',stroke:'#1f8ab8',lineWidth:21}},
    {type:'polygon',z:101,silent:true,shape:{points:[[-6,1352],[10,1372],[25,1392],[42,1412],[64,1434],[-6,1434]]},style:{fill:'#1f8ab8'}},
    {type:'text',z:50,x:986,y:993,style:{text:'Thermal State',font:'44px "Liberation Serif", serif',fill:'#1e1e1e',align:'left',verticalAlign:'middle',textAlign:'left',textVerticalAlign:'middle'}},
    {type:'text',z:50,x:1846,y:1273,style:{text:'Coherent State',font:'44px "Liberation Serif", serif',fill:'#1e1e1e',align:'right',verticalAlign:'middle',textAlign:'right',textVerticalAlign:'middle'}}
  ]}
});
</script></body></html>
